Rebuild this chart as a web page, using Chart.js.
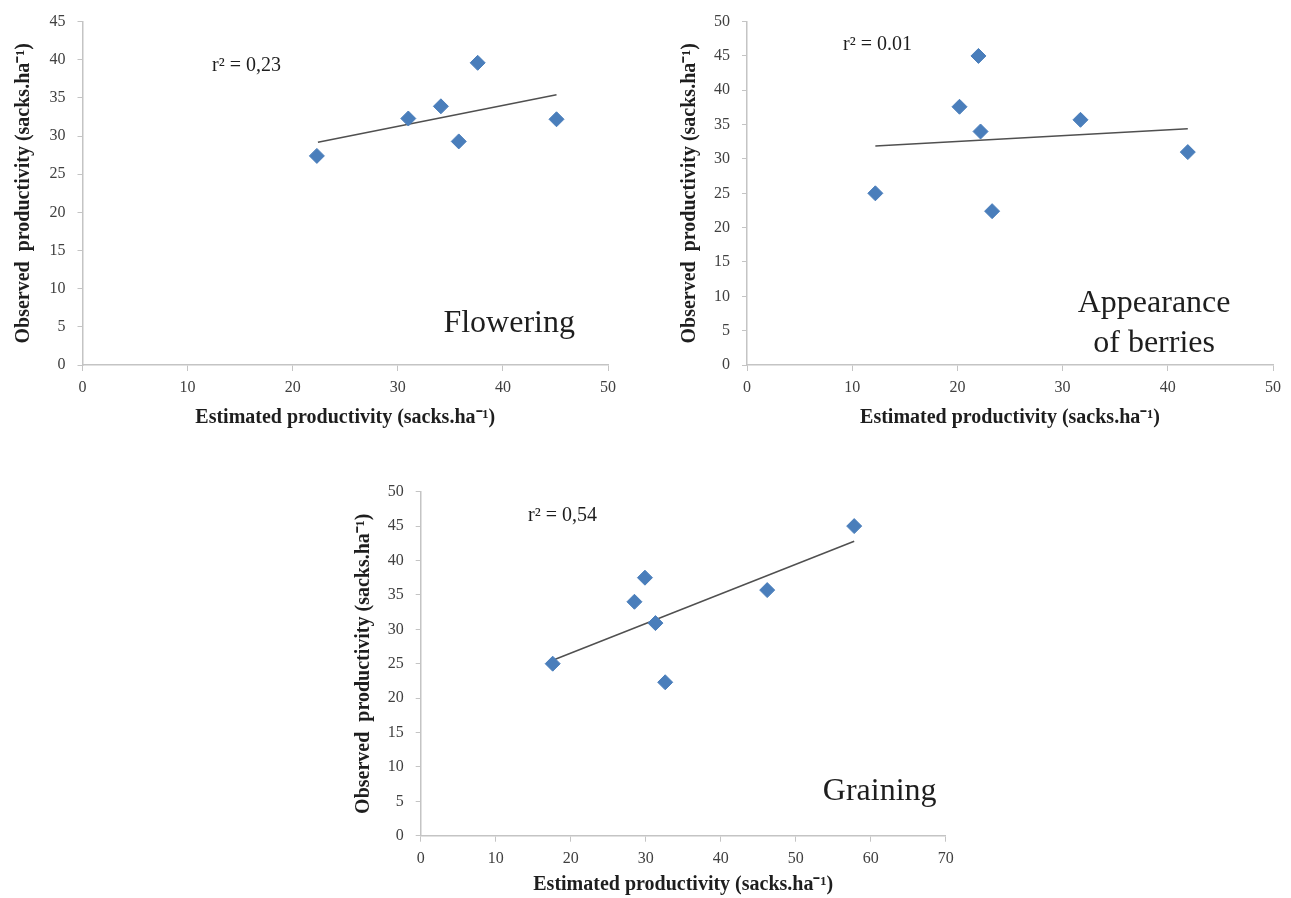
<!DOCTYPE html>
<html>
<head>
<meta charset="utf-8">
<script src="https://cdn.jsdelivr.net/npm/chart.js@4.4.1/dist/chart.umd.min.js"></script>
<style>
  html, body { margin: 0; padding: 0; background: #fff; overflow: hidden; width: 1291px; height: 898px; }
  canvas { position: absolute; }
</style>
</head>
<body>
<canvas id="flowering" width="640" height="440" style="left:0;top:0"></canvas>
<canvas id="berries" width="627" height="440" style="left:664px;top:0"></canvas>
<canvas id="graining" width="640" height="428" style="left:338px;top:470px"></canvas>
<script>
// flowering stage
var floweringEst = [22.3, 31.0, 34.1, 35.8, 37.6, 45.1];
var floweringObs = [27.4, 32.3, 33.9, 29.3, 39.6, 32.2];
var floweringTrendX = [22.4, 45.1];
var floweringTrendY = [29.2, 35.4];

// appearance of berries
var berriesEst = [12.2, 20.2, 22.0, 22.2, 23.3, 31.7, 41.9];
var berriesObs = [25.0, 37.6, 45.0, 34.0, 22.4, 35.7, 31.0];
var berriesTrendX = [12.2, 41.9];
var berriesTrendY = [31.9, 34.4];

// graining
var grainingEst = [17.6, 28.5, 29.9, 31.3, 32.6, 46.2, 57.8];
var grainingObs = [25.0, 34.0, 37.5, 30.9, 22.3, 35.7, 45.0];
var grainingTrendX = [17.6, 57.8];
var grainingTrendY = [25.5, 42.8];

var xTitle = 'Estimated productivity (sacks.ha\u207B\u00B9)';
var yTitle = 'Observed  productivity (sacks.ha\u207B\u00B9)';
var serif = '"Liberation Serif", "Times New Roman", serif';

function pairs(xs, ys) {
  var out = [];
  for (var i = 0; i < xs.length; i++) out.push({x: xs[i], y: ys[i]});
  return out;
}

// draws free text at data coordinates
var notesPlugin = {
  id: 'notes',
  afterDatasetsDraw: function(chart, args, opts) {
    var ctx = chart.ctx;
    var sx = chart.scales.x, sy = chart.scales.y;
    (opts.items || []).forEach(function(n) {
      ctx.save();
      ctx.font = n.font;
      ctx.fillStyle = '#1e1e1e';
      ctx.textAlign = 'center';
      ctx.textBaseline = n.baseline || 'alphabetic';
      ctx.fillText(n.text, sx.getPixelForValue(n.x), sy.getPixelForValue(n.y));
      ctx.restore();
    });
  }
};

function makeChart(id, c) {
  return new Chart(document.getElementById(id), {
    type: 'scatter',
    data: {
      datasets: [{
        data: pairs(c.est, c.obs),
        pointStyle: 'rectRot',
        pointRadius: 7.5,
        pointBackgroundColor: '#4A7EBB',
        pointBorderColor: '#4A7EBB',
        pointBorderWidth: 1,
        order: 1
      }, {
        type: 'line',
        data: pairs(c.trendX, c.trendY),
        borderColor: '#505050',
        borderWidth: 1.5,
        pointRadius: 0,
        fill: false,
        order: 2
      }]
    },
    options: {
      responsive: false,
      animation: false,
      layout: { padding: c.pad },
      plugins: {
        legend: { display: false },
        tooltip: { enabled: false },
        notes: { items: c.notes }
      },
      scales: {
        x: {
          type: 'linear', min: 0, max: c.xMax,
          ticks: { stepSize: 10, padding: 7, color: '#404040', font: { family: serif, size: 16 } },
          grid: { drawOnChartArea: false, tickLength: 6, color: '#c4c4c4' },
          border: { color: '#c4c4c4', width: 1.5 },
          title: { display: true, text: xTitle, color: '#1e1e1e', padding: { top: 0, bottom: c.xTitlePad },
                   font: { family: serif, size: 20, weight: 'bold' } },
          afterFit: function(s) { s.height = c.xHeight; }
        },
        y: {
          type: 'linear', min: 0, max: c.yMax,
          ticks: { stepSize: 5, padding: 12, color: '#404040', font: { family: serif, size: 16 } },
          grid: { drawOnChartArea: false, tickLength: 5, color: '#c4c4c4' },
          border: { color: '#c4c4c4', width: 1.5 },
          title: { display: true, text: yTitle, color: '#1e1e1e', padding: { top: c.yTitlePad, bottom: 0 },
                   font: { family: serif, size: 20, weight: 'bold' } },
          afterFit: function(s) { s.width = c.yWidth; }
        }
      }
    },
    plugins: [notesPlugin]
  });
}

makeChart('flowering', {
  est: floweringEst, obs: floweringObs, trendX: floweringTrendX, trendY: floweringTrendY,
  xMax: 50, yMax: 45,
  pad: { left: 0, top: 21, right: 32, bottom: 0 },
  xHeight: 75, yWidth: 82.5, xTitlePad: 10, yTitlePad: 11.4,
  notes: [
    { text: 'r\u00B2 = 0,23', x: 15.6, y: 39.2, baseline: 'middle', font: '20px ' + serif },
    { text: 'Flowering', x: 40.6, y: 4.3, font: '32px ' + serif }
  ]
});

makeChart('berries', {
  est: berriesEst, obs: berriesObs, trendX: berriesTrendX, trendY: berriesTrendY,
  xMax: 50, yMax: 50,
  pad: { left: 0, top: 20.7, right: 18, bottom: 0 },
  xHeight: 75, yWidth: 83, xTitlePad: 10, yTitlePad: 14,
  notes: [
    { text: 'r\u00B2 = 0.01', x: 12.4, y: 46.7, baseline: 'middle', font: '20px ' + serif },
    { text: 'Appearance', x: 38.7, y: 7.74, font: '32px ' + serif },
    { text: 'of berries', x: 38.7, y: 1.93, font: '32px ' + serif }
  ]
});

makeChart('graining', {
  est: grainingEst, obs: grainingObs, trendX: grainingTrendX, trendY: grainingTrendY,
  xMax: 70, yMax: 50,
  pad: { left: 0, top: 21.7, right: 32.3, bottom: 0 },
  xHeight: 62.3, yWidth: 82.7, xTitlePad: 1, yTitlePad: 14.3,
  notes: [
    { text: 'r\u00B2 = 0,54', x: 18.9, y: 46.5, baseline: 'middle', font: '20px ' + serif },
    { text: 'Graining', x: 61.2, y: 5.2, font: '32px ' + serif }
  ]
});
</script>
</body>
</html>
